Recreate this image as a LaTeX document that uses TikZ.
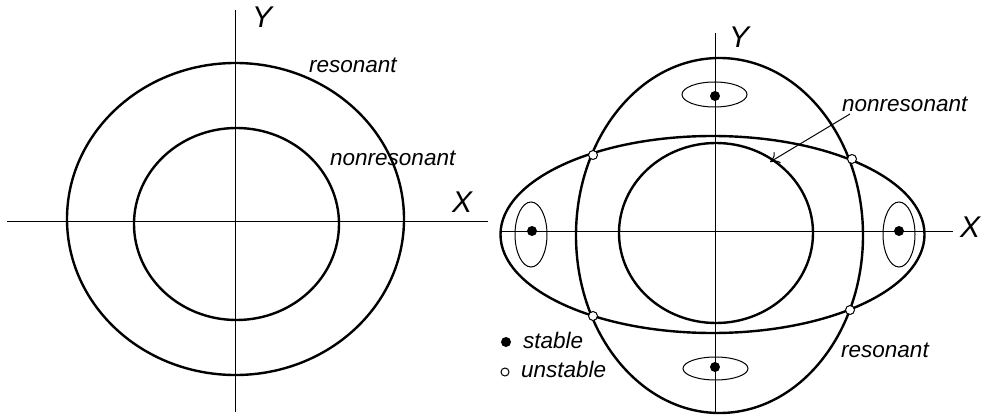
\documentclass[tikz,border=0pt]{standalone}
\usepackage{fontspec}
\setmainfont{Liberation Sans}
\usetikzlibrary{shapes.geometric,arrows.meta}
\begin{document}
\begin{tikzpicture}[x=1pt,y=-1pt,
 axis/.style={line width=1pt},
 curve/.style={draw, ellipse, line width=2.4pt, inner sep=0pt, outer sep=0pt},
 small/.style={draw, ellipse, line width=1pt, inner sep=0pt, outer sep=0pt},
 lbl/.style={anchor=base west, inner sep=0pt, font=\fontsize{22.5}{24}\selectfont\itshape},
 axlbl/.style={anchor=base west, inner sep=0pt, font=\fontsize{30}{32}\selectfont\itshape},
 stab/.style={circle, fill=black, inner sep=0pt, minimum size=10pt},
 unstab/.style={circle, draw, fill=white, line width=1pt, inner sep=0pt, minimum size=9pt}]
\useasboundingbox (0,0) rectangle (983,417);
% ---------- left figure ----------
\coordinate (lxw) at (7,221);
\coordinate (lxe) at (488,221);
\coordinate (lyn) at (235,10);
\coordinate (lys) at (235,412);
\draw[axis] (lxw) -- (lxe);
\draw[axis] (lyn) -- (lys);
\node[curve, minimum width=337pt, minimum height=312pt] (lout) at (235.5,219) {};
\node[curve, minimum width=205pt, minimum height=192pt] (lin) at (236.5,224) {};
\node[axlbl] (lY) at (252,28) {Y};
\node[axlbl] (lX) at (452,212) {X};
\node[lbl] (lres) at (309,73) {resonant};
\node[lbl] (lnon) at (330,166) {nonresonant};
% ---------- right figure ----------
\coordinate (rxw) at (500,231);
\coordinate (rxe) at (953,231);
\coordinate (ryn) at (715,33);
\coordinate (rys) at (715,413);
\draw[axis] (rxw) -- (rxe);
\draw[axis] (ryn) -- (rys);
\node[curve, minimum width=287pt, minimum height=355pt] (rvert) at (719.5,235.5) {};
\node[curve, minimum width=424pt, minimum height=197pt] (rhor) at (712.5,234.5) {};
\node[curve, minimum width=194pt, minimum height=180pt] (rin) at (716,233) {};
\node[small, minimum width=65pt, minimum height=25pt] (st) at (714.5,94.5) {};
\node[small, minimum width=65pt, minimum height=23pt] (sb) at (715.5,368.5) {};
\node[small, minimum width=32pt, minimum height=65pt] (sl) at (531,234.5) {};
\node[small, minimum width=32pt, minimum height=65pt] (sr) at (899,234.5) {};
\node[stab] (pt) at (715,96) {};
\node[stab] (pb) at (715,367) {};
\node[stab] (pl) at (532,231) {};
\node[stab] (pr) at (899,231) {};
\node[unstab] (u1) at (593,155) {};
\node[unstab] (u2) at (852,159) {};
\node[unstab] (u3) at (593,316) {};
\node[unstab] (u4) at (850,310) {};
\node[axlbl] (rY) at (729,48) {Y};
\node[axlbl] (rX) at (960,237) {X};
\node[lbl] (rnon) at (842,112) {nonresonant};
\node[lbl] (rres) at (841,357) {resonant};
\coordinate (arrtail) at (850,114);
\coordinate (arrtip) at (770,162);
\draw[axis, -{To[length=9pt,width=13pt]}] (arrtail) -- (arrtip);
% legend
\node[stab] (legs) at (506,342) {};
\node[lbl] (legst) at (523,348) {stable};
\node[unstab, minimum size=8pt] (legu) at (505,372) {};
\node[lbl] (legun) at (521,377) {unstable};
\end{tikzpicture}
\end{document}
